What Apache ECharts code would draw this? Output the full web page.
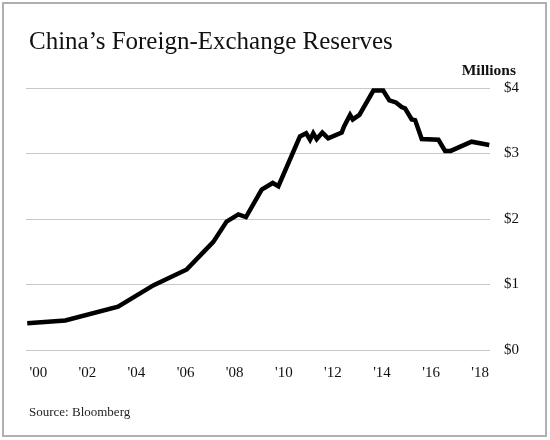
<!DOCTYPE html>
<html>
<head>
<meta charset="utf-8">
<script src="https://cdn.jsdelivr.net/npm/echarts@6/dist/echarts.min.js"></script>
<style>
html,body{margin:0;padding:0;background:#fff;}
#chart{width:550px;height:440px;}
</style>
</head>
<body>
<div id="chart"></div>
<script>
// Data (years as decimal, reserves in $ trillions, labelled "Millions")
var years = [1999.55, 2001.1, 2003.25, 2004.7, 2006.05, 2007.13, 2007.67, 2008.15, 2008.46, 2009.1, 2009.55, 2009.78,
  2010.66, 2010.91, 2011.07, 2011.2, 2011.34, 2011.57, 2011.81, 2012.36, 2012.45, 2012.7, 2012.81, 2013.08,
  2013.65, 2014.05, 2014.3, 2014.57, 2014.8, 2014.94, 2015.21, 2015.35, 2015.62, 2016.3, 2016.57, 2016.8,
  2017.65, 2018.37];
var reserves = [0.41, 0.45, 0.66, 0.99, 1.23, 1.65, 1.96, 2.07, 2.03, 2.45, 2.55, 2.50,
  3.26, 3.31, 3.21, 3.31, 3.22, 3.32, 3.23, 3.32, 3.41, 3.59, 3.52, 3.59,
  3.96, 3.96, 3.81, 3.78, 3.71, 3.69, 3.52, 3.51, 3.22, 3.21, 3.04, 3.04,
  3.18, 3.13];
var xTicks = [2000, 2002, 2004, 2006, 2008, 2010, 2012, 2014, 2016, 2018];
var xTickLabels = ["'00", "'02", "'04", "'06", "'08", "'10", "'12", "'14", "'16", "'18"];
var yTicks = [0, 1, 2, 3, 4];
var yTickLabels = ['$0', '$1', '$2', '$3', '$4'];

var serif = '"Liberation Serif", "DejaVu Serif", serif';
var seriesData = years.map(function (y, i) { return [y, reserves[i]]; });

var chart = echarts.init(document.getElementById('chart'), null, {renderer: 'canvas'});
chart.setOption({
  backgroundColor: '#fff',
  animation: false,
  title: [
    {text: 'China\u2019s Foreign-Exchange Reserves', left: 24, top: 25,
     textStyle: {fontFamily: serif, fontSize: 25, fontWeight: 'normal', color: '#111'}},
    {text: 'Millions', right: 29, top: 58,
     textStyle: {fontFamily: serif, fontSize: 15.5, fontWeight: 'bold', color: '#111'}},
    {text: 'Source: Bloomberg', left: 24, top: 401,
     textStyle: {fontFamily: serif, fontSize: 13, fontWeight: 'normal', color: '#222'}}
  ],
  graphic: [{
    type: 'rect', shape: {x: 3, y: 3, width: 543, height: 433},
    style: {fill: 'none', stroke: '#b0b0b0', lineWidth: 2}, silent: true
  }],
  grid: {left: 26, right: 60, top: 88, bottom: 90, containLabel: false},
  xAxis: {
    type: 'value', min: 1999.5, max: 2018.4,
    axisLine: {show: false}, axisTick: {show: false}, splitLine: {show: false},
    axisLabel: {
      customValues: xTicks,
      formatter: function (v) { var i = xTicks.indexOf(Math.round(v)); return i >= 0 ? xTickLabels[i] : ''; },
      fontFamily: serif, fontSize: 15, color: '#111', margin: 16
    }
  },
  yAxis: {
    type: 'value', position: 'right', min: 0, max: 4, interval: 1,
    axisLine: {show: false}, axisTick: {show: false},
    splitLine: {lineStyle: {color: '#c8c8c8', width: 1}},
    axisLabel: {
      formatter: function (v) { return yTickLabels[yTicks.indexOf(v)]; },
      fontFamily: serif, fontSize: 15, color: '#111', margin: 14
    }
  },
  series: [{
    type: 'line', data: seriesData, showSymbol: false,
    lineStyle: {color: '#000', width: 4.5, join: 'miter'}
  }]
});
</script>
</body>
</html>
